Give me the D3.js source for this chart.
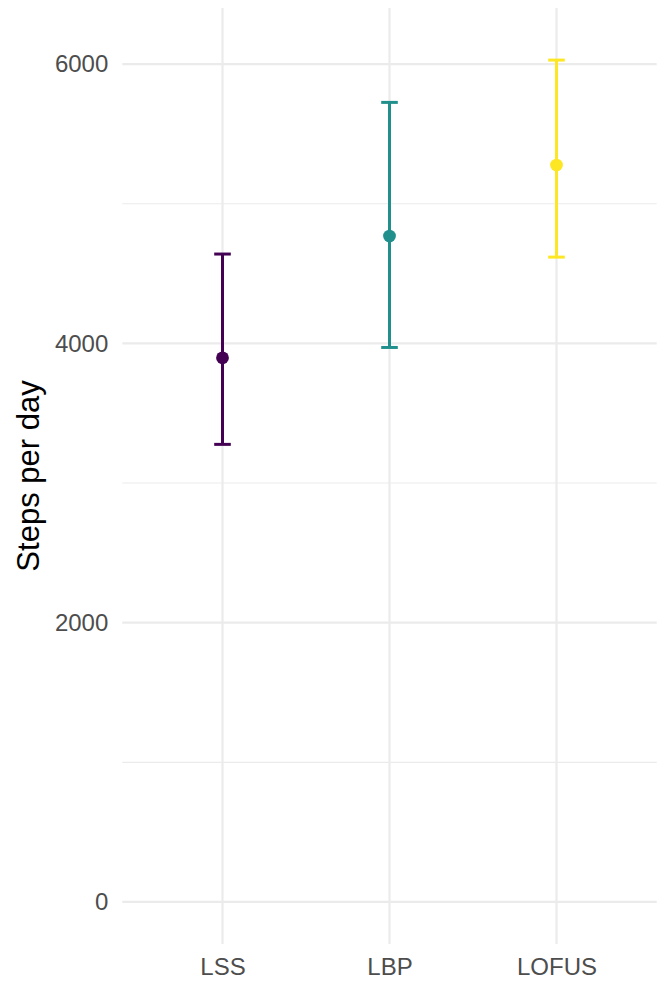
<!DOCTYPE html>
<html><head><meta charset="utf-8">
<script src="https://cdn.jsdelivr.net/npm/d3@7"></script>
<style>html,body{margin:0;padding:0;background:#fff;}</style>
</head><body>
<script>
const categories = ["LSS", "LBP", "LOFUS"];
const means = [3897, 4769, 5277];
const lower = [3277, 3971, 4618];
const upper = [4640, 5726, 6029];
const colors = ["#440154", "#21908C", "#FDE725"];
const majorTicks = [0, 2000, 4000, 6000];
const minorTicks = [1000, 3000, 5000];
const yTitle = "Steps per day";

(function () {
const W = 658, H = 982;
const pL = 122.3, pR = 656.7, pT = 8, pB = 944;
const svg = d3.select("body").append("svg").attr("width", W).attr("height", H);

const x = d3.scalePoint().domain(categories).range([pL, pR]).padding(0.6);
const y = d3.scaleLinear().domain([-301, 6402]).range([pB, pT]);

const grid = svg.append("g");
grid.selectAll(".minor").data(minorTicks).enter().append("line")
  .attr("x1", pL).attr("x2", pR).attr("y1", d => y(d)).attr("y2", d => y(d))
  .attr("stroke", "#EBEBEB").attr("stroke-width", 1.1);
grid.selectAll(".major").data(majorTicks).enter().append("line")
  .attr("x1", pL).attr("x2", pR).attr("y1", d => y(d)).attr("y2", d => y(d))
  .attr("stroke", "#EBEBEB").attr("stroke-width", 2.2);
grid.selectAll(".vmajor").data(categories).enter().append("line")
  .attr("x1", d => x(d)).attr("x2", d => x(d)).attr("y1", pT).attr("y2", pB)
  .attr("stroke", "#EBEBEB").attr("stroke-width", 2.2);

const font = "'Liberation Sans', Arial, sans-serif";
const yAxis = svg.append("g").attr("transform", `translate(${pL},0)`)
  .call(d3.axisLeft(y).tickValues(majorTicks).tickSize(0).tickPadding(14).tickFormat(d3.format("d")));
yAxis.select(".domain").remove();
yAxis.selectAll("text").attr("fill", "#4D4D4D").style("font-family", font).style("font-size", "24px");

const xAxis = svg.append("g").attr("transform", `translate(0,${pB})`)
  .call(d3.axisBottom(x).tickSize(0).tickPadding(14));
xAxis.select(".domain").remove();
xAxis.selectAll("text").attr("fill", "#4D4D4D").style("font-family", font).style("font-size", "24px");

svg.append("text").attr("transform", `translate(39,${(pT + pB) / 2}) rotate(-90)`)
  .attr("text-anchor", "middle").style("font-family", font)
  .style("font-size", "31px").attr("fill", "#000").text(yTitle);

const data = categories.map((c, i) => ({c, m: means[i], lo: lower[i], hi: upper[i], col: colors[i]}));
const g = svg.append("g");
const capW = 8.3;
data.forEach(d => {
  const cx = x(d.c);
  g.append("line").attr("x1", cx).attr("x2", cx).attr("y1", y(d.lo)).attr("y2", y(d.hi))
    .attr("stroke", d.col).attr("stroke-width", 3);
  [d.lo, d.hi].forEach(v => {
    g.append("line").attr("x1", cx - capW).attr("x2", cx + capW).attr("y1", y(v)).attr("y2", y(v))
      .attr("stroke", d.col).attr("stroke-width", 3);
  });
  g.append("circle").attr("cx", cx).attr("cy", y(d.m)).attr("r", 6.4).attr("fill", d.col);
});
})();
</script>
</body></html>
